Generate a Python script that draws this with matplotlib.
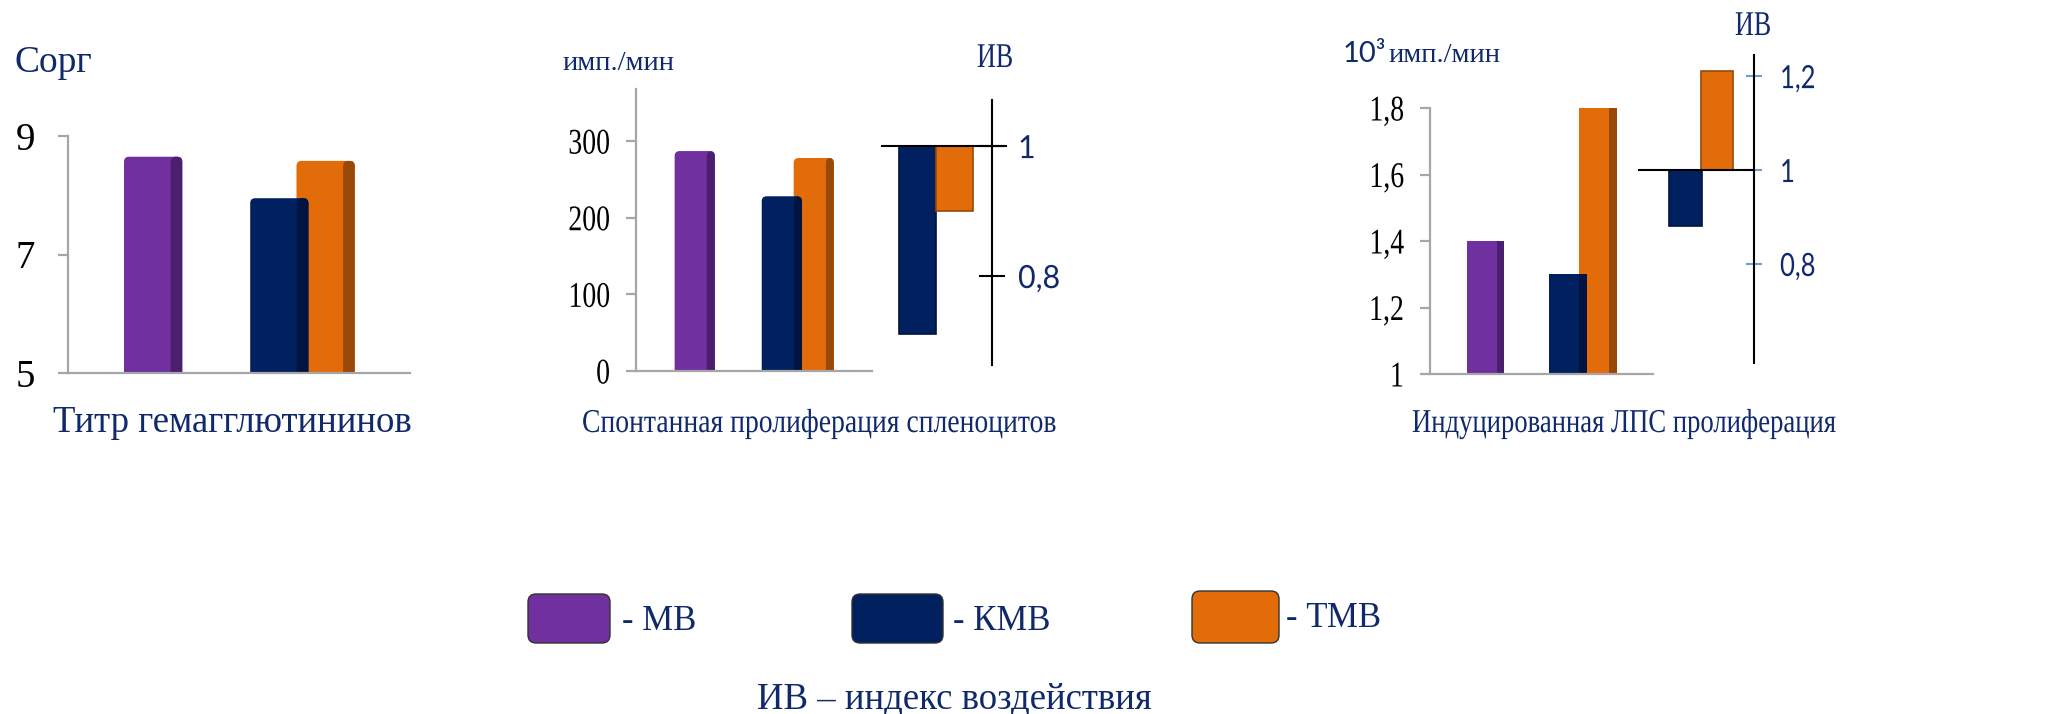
import matplotlib.pyplot as plt
from matplotlib.patches import FancyBboxPatch
from matplotlib.patheffects import AbstractPathEffect
from matplotlib.ticker import FuncFormatter
from matplotlib.transforms import Affine2D

plt.rcParams['font.family'] = 'Liberation Serif'

groups = ['МВ', 'КМВ', 'ТМВ']
front = ['#7030a0', '#002060', '#e36c0a']
side = ['#4b1f6e', '#00143f', '#984807']
navy = '#10296b'

# titre (log2), spontaneous and LPS-induced proliferation
titer = [8.65, 7.95, 8.58]
spont = [287, 228, 278]
lps = [1.40, 1.30, 1.80]
# impact index for КМВ and ТМВ
spont_iv = [0.71, 0.90]
lps_iv = [0.88, 1.21]

W, H = 2059, 714
fig = plt.figure(figsize=(W / 100, H / 100), dpi=100)


class Narrow(AbstractPathEffect):
    """Squeeze glyphs horizontally, keeping the left or right end in place."""

    def __init__(self, sx, anchor='left'):
        super().__init__()
        self.sx = sx
        self.anchor = anchor

    def draw_path(self, renderer, gc, tpath, affine, rgbFace=None):
        if self.anchor == 'right':
            x0 = tpath.get_extents(affine).x1
        else:
            x0 = affine.transform((0, 0))[0]
        squeeze = Affine2D().translate(-x0, 0).scale(self.sx, 1).translate(x0, 0)
        renderer.draw_path(gc, tpath, affine + squeeze, rgbFace)


def box(x0, y0, x1, y1):
    return [x0 / W, 1 - y1 / H, (x1 - x0) / W, (y1 - y0) / H]


# МВ alone, КМВ and ТМВ side by side
pos = [0, 1 - 0.155, 1 + 0.155]
xlim = (-0.57, 1.72)
comma = FuncFormatter(lambda v, p: f'{v:g}'.replace('.', ','))


def value_panel(rect, values, ylim, ticks, size, pad, sx=1.0, rounded=False, bw=0.39):
    ax = fig.add_axes(box(*rect))
    ux = (xlim[1] - xlim[0]) / (rect[2] - rect[0])
    uy = (ylim[1] - ylim[0]) / (rect[3] - rect[1])
    z = 2
    for i in (2, 0, 1):
        h = values[i] - ylim[0]
        if rounded:
            # front face plus darker side face, top corners rounded (~5 px)
            for xc, ww, col in ((pos[i], bw, front[i]),
                                (pos[i] + 0.4 * bw, 0.2 * bw, side[i])):
                ax.add_patch(FancyBboxPatch(
                    (xc - ww / 2, ylim[0] - 10 * uy), ww, h + 10 * uy,
                    boxstyle=f'round,pad=0,rounding_size={5 * ux}',
                    mutation_aspect=uy / ux, facecolor=col, edgecolor='none', zorder=z))
                z += 0.3
        else:
            ax.bar(pos[i], h, bw, bottom=ylim[0], color=front[i], zorder=z)
            ax.bar(pos[i] + 0.4 * bw, h, 0.2 * bw, bottom=ylim[0], color=side[i],
                   zorder=z + 0.5)
        z += 1
    ax.set_xlim(*xlim)
    ax.set_ylim(*ylim)
    ax.set_yticks(ticks)
    ax.yaxis.set_major_formatter(comma)
    ax.set_xticks([])
    for s in ('top', 'right'):
        ax.spines[s].set_visible(False)
    for s in ('left', 'bottom'):
        ax.spines[s].set_color('#a6a6a6')
        ax.spines[s].set_linewidth(1.6)
        ax.spines[s].set_zorder(10)
    ax.tick_params(axis='y', length=7, width=1.6, color='#a6a6a6', pad=pad, labelsize=size)
    if sx != 1.0:
        for lab in ax.get_yticklabels():
            lab.set_path_effects([Narrow(sx, 'right')])
    ax.patch.set_alpha(0)
    return ax


value_panel((68, 136, 410, 373), titer, (5, 9), [5, 7, 9], 28, 16.5, rounded=True)
value_panel((636, 89, 872, 371), spont, (0, 368), [0, 100, 200, 300], 26, 11.5,
            sx=0.77, rounded=True)
value_panel((1430, 108, 1653, 374), lps, (1, 1.8), [1, 1.2, 1.4, 1.6, 1.8], 26, 11.5,
            sx=0.77)


def iv_panel(rect, values, xlim, ylim, ticks, bw, tick_color, tick_len, pad, line_end, sx):
    ax = fig.add_axes(box(*rect))
    for i, v in enumerate(values):
        ax.bar(i, v - 1, bw, bottom=1, color=front[i + 1], edgecolor=side[i + 1],
               linewidth=1.2, zorder=2)
    ax.axhline(1, xmin=0, xmax=line_end, color='black', lw=1.5, clip_on=False, zorder=3)
    ax.set_xlim(*xlim)
    ax.set_ylim(*ylim)
    ax.set_xticks([])
    for s in ('top', 'left', 'bottom'):
        ax.spines[s].set_visible(False)
    ax.spines['right'].set_color('black')
    ax.spines['right'].set_linewidth(1.5)
    ax.yaxis.tick_right()
    ax.set_yticks(ticks)
    ax.yaxis.set_major_formatter(comma)
    ax.tick_params(axis='y', direction='inout', length=tick_len, width=1.5,
                   color=tick_color, pad=pad, labelsize=23, labelcolor=navy,
                   labelfontfamily='Lato')
    for lab in ax.get_yticklabels():
        lab.set_path_effects([Narrow(sx)])
    ax.patch.set_alpha(0)
    return ax


iv_panel((882, 100, 992, 365), spont_iv, (-0.96, 2.01), (0.663, 1.071), [0.8, 1],
         1.02, 'black', 18.7, 9.4, 1.127, 0.95)
iv_panel((1639, 55, 1754, 363), lps_iv, (-1.476, 2.175), (0.589, 1.245), [0.8, 1, 1.2],
         1.03, '#6f9bd6', 11.5, 13, 1.0, 0.8)

# overlay in pixel units for captions and the legend
ov = fig.add_axes([0, 0, 1, 1])
ov.set_xlim(0, W)
ov.set_ylim(H, 0)
ov.axis('off')


def caption(x, y, s, size, sx=1.0, **kw):
    t = ov.text(x, y, s, fontsize=size, color=navy, va='baseline', **kw)
    if sx != 1.0:
        t.set_path_effects([Narrow(sx)])
    return t


caption(15, 72, 'Сорг', 27)
caption(562, 70, 'имп./мин', 20.5)
caption(977, 67, 'ИВ', 25, sx=0.75)
caption(1343, 62, '10³', 21, family='Lato')
caption(1388, 62, 'имп./мин', 20.5)
caption(1735, 35, 'ИВ', 25, sx=0.75)

caption(53, 432, 'Титр гемагглютининов', 26.5)
caption(582, 432, 'Спонтанная пролиферация спленоцитов', 24, sx=0.83)
caption(1412, 432, 'Индуцированная ЛПС пролиферация', 24, sx=0.8)

legend_boxes = [(528, 594, 82, 49), (852, 594, 91, 49), (1192, 591, 87, 52)]
legend_text = [(622, 630), (953, 630), (1286, 627)]
for i, name in enumerate(groups):
    x, y, w, h = legend_boxes[i]
    ov.add_patch(FancyBboxPatch((x, y), w, h, boxstyle='round,pad=0,rounding_size=8',
                                facecolor=front[i], edgecolor='#333333', linewidth=1))
    tx, ty = legend_text[i]
    caption(tx, ty, '- ' + name, 25)

caption(757, 708, 'ИВ – индекс воздействия', 26.5)

fig.savefig('out.png', dpi=100)
